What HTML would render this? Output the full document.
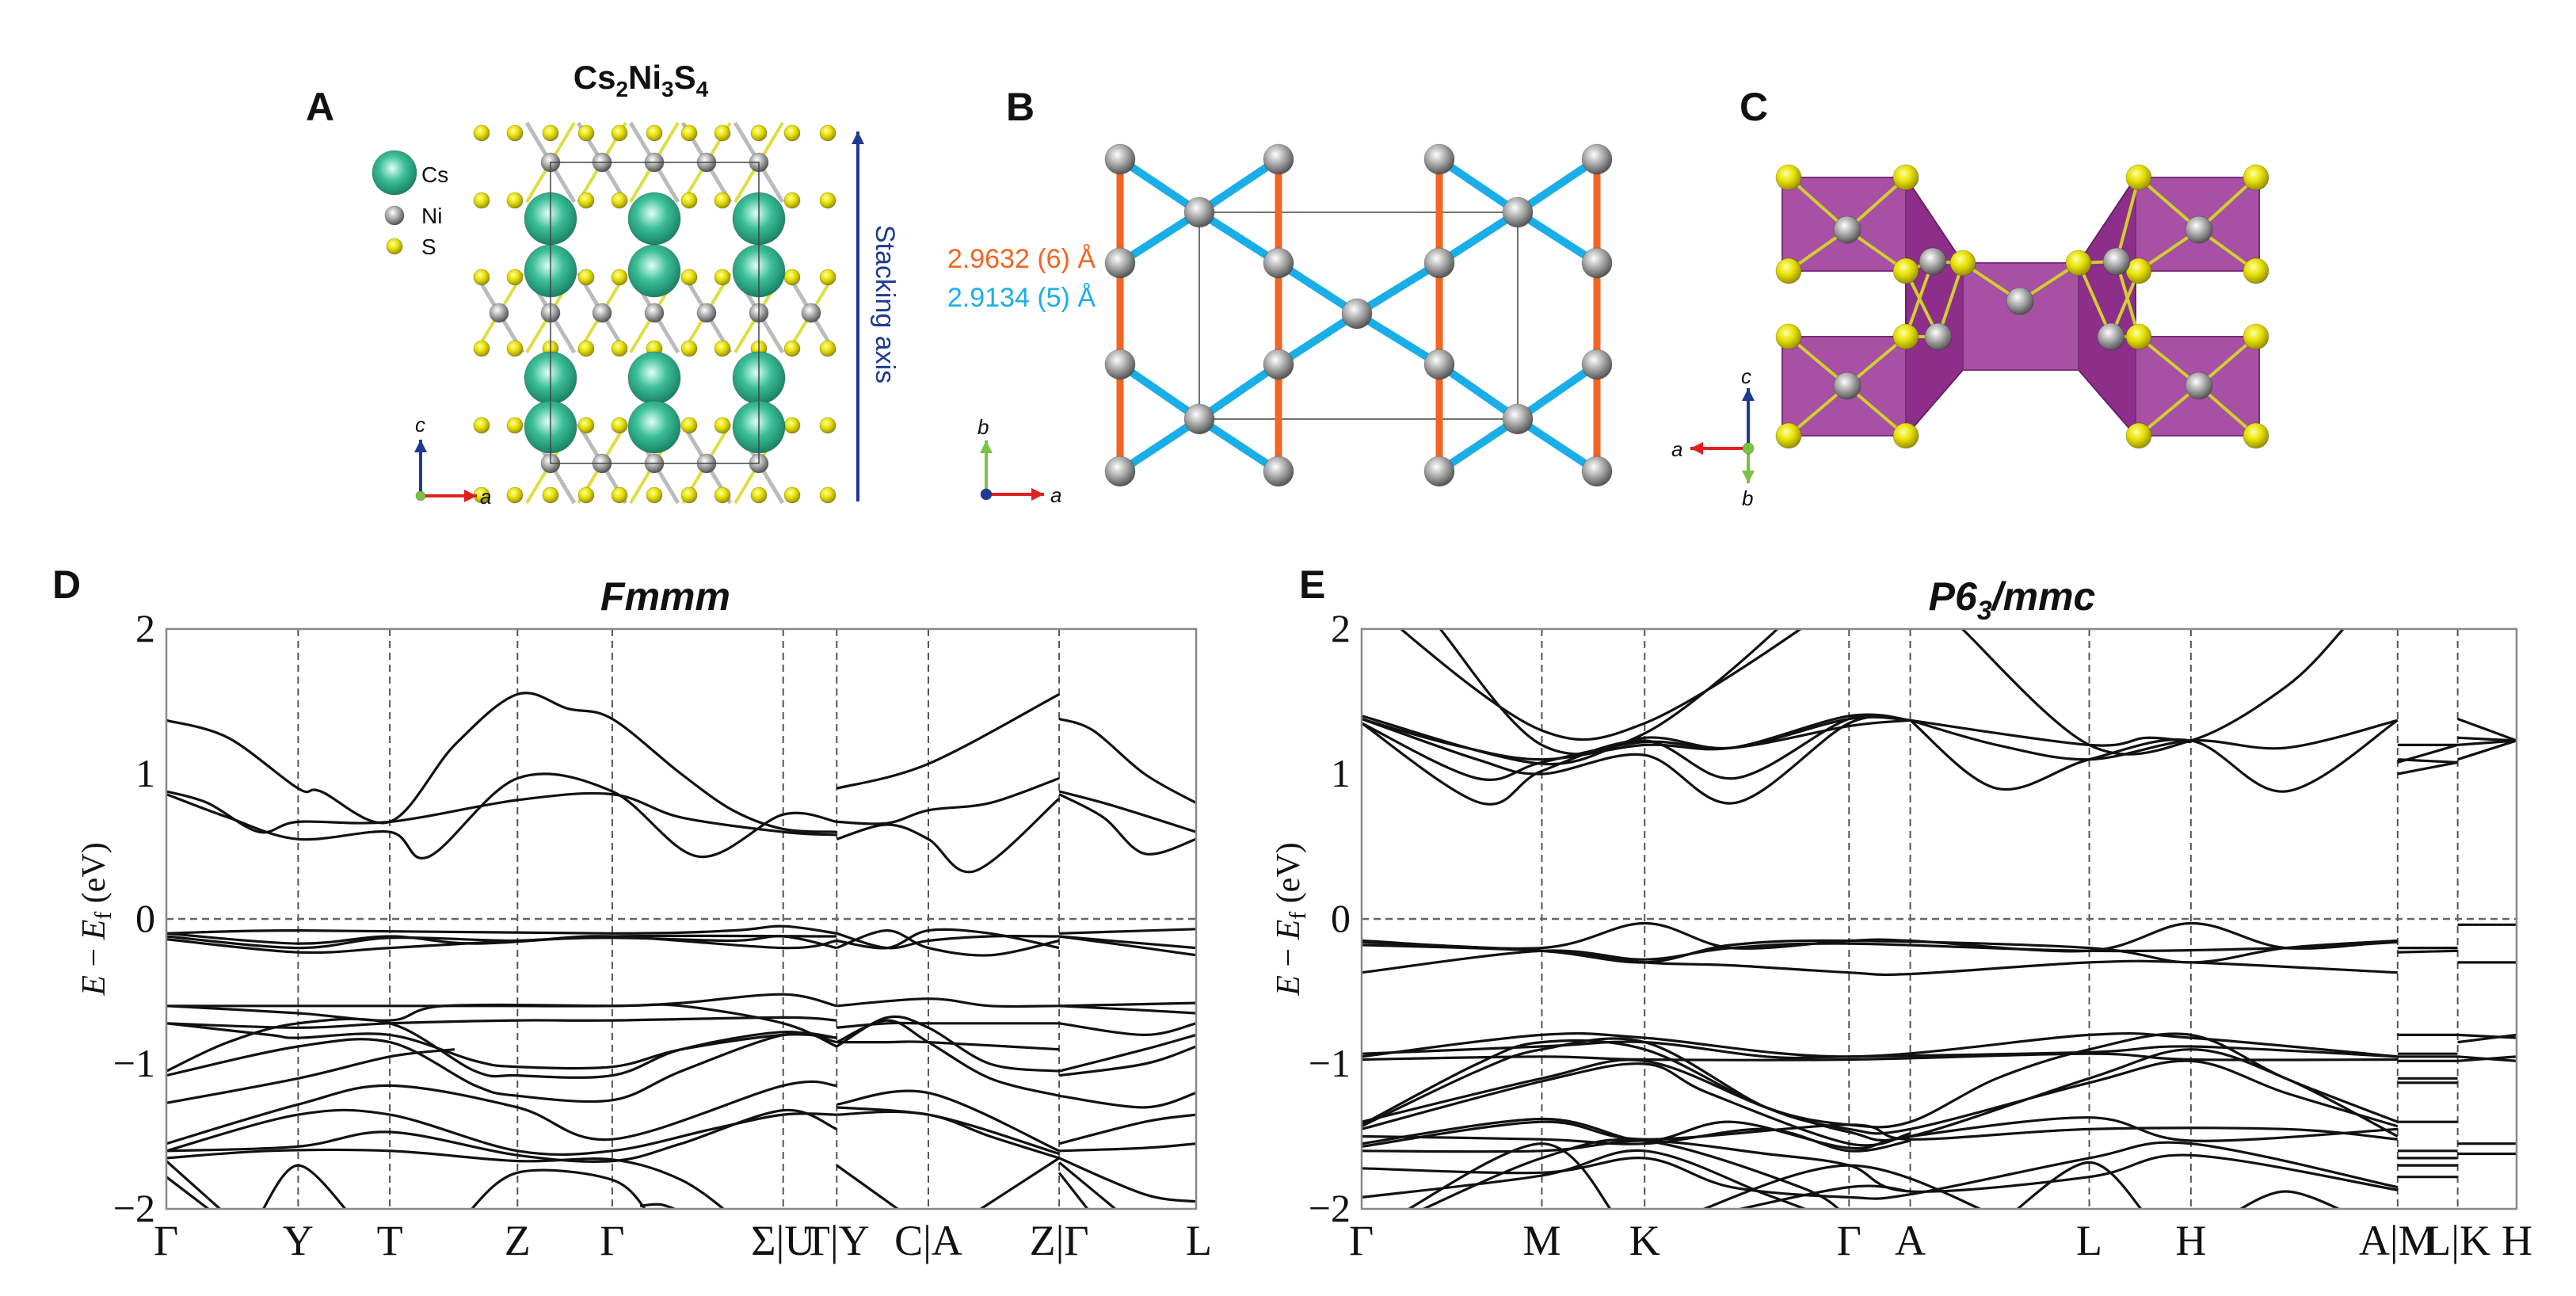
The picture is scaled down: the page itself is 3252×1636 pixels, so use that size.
<!DOCTYPE html>
<html><head><meta charset="utf-8"><style>
html,body{margin:0;padding:0;background:#fff}
svg{display:block}
.ser{font-family:"Liberation Serif",serif}
.sans{font-family:"Liberation Sans",sans-serif}
</style></head><body>
<svg id="fig" width="3252" height="1636" viewBox="0 0 3252 1636" xmlns="http://www.w3.org/2000/svg">
<defs>
<radialGradient id="gNi" cx="40%" cy="35%" r="65%"><stop offset="0" stop-color="#fff"/><stop offset="0.5" stop-color="#aaa"/><stop offset="1" stop-color="#555"/></radialGradient>
<radialGradient id="gS" cx="40%" cy="35%" r="65%"><stop offset="0" stop-color="#ffffa0"/><stop offset="0.5" stop-color="#e6e000"/><stop offset="1" stop-color="#9a9000"/></radialGradient>
<radialGradient id="gCs" cx="45%" cy="40%" r="65%"><stop offset="0" stop-color="#e0fff4"/><stop offset="0.45" stop-color="#3cbf98"/><stop offset="1" stop-color="#13785c"/></radialGradient>
<clipPath id="clipD"><rect x="210" y="794" width="1300" height="732"/></clipPath>
<clipPath id="clipE"><rect x="1719" y="794" width="1458" height="732"/></clipPath>
</defs>
<g id="top"></g>
<g id="panelD"></g>
<g id="panelE"></g>
</svg>
<script>
const NS="http://www.w3.org/2000/svg";
function mk(parent,tag,attrs,text){const e=document.createElementNS(NS,tag);for(const k in attrs)e.setAttribute(k,attrs[k]);if(text!==undefined)e.textContent=text;parent.appendChild(e);return e;}

const yTicks=[2,1,0,-1,-2];
const yTickLabels=["2","1","0","\u22121","\u22122"];
const dTickK=[0,0.128,0.217,0.341,0.433,0.599,0.651,0.740,0.867,1];
const dTickLabels=["\u0393","Y","T","Z","\u0393","\u03A3|U","T|Y","C|A","Z|\u0393","L"];
const eTickK=[0,0.156,0.245,0.422,0.475,0.630,0.718,0.897,0.949,1];
const eTickLabels=["\u0393","M","K","\u0393","A","L","H","A|M","L|K","H"];

const dBands=[
[[0,1.37],[0.06,1.25],[0.128,0.9],[0.15,0.88],[0.217,0.67],[0.28,1.2],[0.341,1.55],[0.39,1.45],[0.433,1.38],[0.5,1.0],[0.55,0.75],[0.599,0.62],[0.651,0.6]],
[[0,0.88],[0.04,0.8],[0.09,0.6],[0.128,0.67],[0.217,0.67],[0.341,0.82],[0.433,0.86],[0.5,0.7],[0.599,0.6],[0.651,0.58]],
[[0,0.86],[0.06,0.7],[0.128,0.55],[0.217,0.6],[0.255,0.43],[0.341,0.97],[0.433,0.88],[0.517,0.43],[0.599,0.72],[0.651,0.67]],
[[0.651,0.9],[0.74,1.07],[0.867,1.55]],
[[0.651,0.67],[0.7,0.66],[0.74,0.75],[0.8,0.8],[0.867,0.97]],
[[0.651,0.55],[0.7,0.65],[0.74,0.55],[0.785,0.33],[0.867,0.83]],
[[0.867,1.38],[0.9,1.3],[0.95,1.0],[1,0.8]],
[[0.867,0.88],[0.92,0.78],[1,0.6]],
[[0.867,0.86],[0.91,0.7],[0.95,0.45],[1,0.55]],
[[0,-0.1],[0.128,-0.08],[0.433,-0.1],[0.55,-0.08],[0.599,-0.05],[0.651,-0.1]],
[[0,-0.12],[0.128,-0.2],[0.217,-0.13],[0.341,-0.15],[0.433,-0.12],[0.599,-0.2],[0.651,-0.15]],
[[0,-0.14],[0.128,-0.23],[0.217,-0.2],[0.341,-0.15],[0.433,-0.13],[0.55,-0.15],[0.599,-0.12],[0.651,-0.2]],
[[0,-0.1],[0.128,-0.17],[0.217,-0.12],[0.3,-0.17],[0.433,-0.12],[0.651,-0.12]],
[[0.651,-0.1],[0.7,-0.2],[0.74,-0.15],[0.8,-0.12],[0.867,-0.12]],
[[0.651,-0.2],[0.7,-0.08],[0.74,-0.2],[0.8,-0.25],[0.867,-0.15]],
[[0.651,-0.15],[0.7,-0.2],[0.74,-0.08],[0.8,-0.1],[0.867,-0.2]],
[[0.867,-0.1],[1,-0.07]],
[[0.867,-0.12],[1,-0.2]],
[[0.867,-0.12],[0.95,-0.2],[1,-0.25]],
[[0,-0.6],[0.3,-0.6],[0.433,-0.6],[0.5,-0.58],[0.599,-0.52],[0.651,-0.6]],
[[0,-0.6],[0.128,-0.65],[0.217,-0.7],[0.27,-0.6],[0.433,-0.6],[0.5,-0.6],[0.599,-0.72],[0.651,-0.88]],
[[0,-0.72],[0.128,-0.75],[0.217,-0.72],[0.341,-0.7],[0.433,-0.7],[0.599,-0.68],[0.651,-0.7]],
[[0,-0.72],[0.1,-0.8],[0.128,-0.82],[0.217,-0.8],[0.3,-0.98],[0.341,-1.02],[0.433,-1.02],[0.5,-0.9],[0.599,-0.8],[0.651,-0.82]],
[[0,-1.05],[0.06,-0.85],[0.128,-0.72],[0.217,-0.72],[0.3,-1.05],[0.341,-1.08],[0.433,-1.08],[0.5,-0.9],[0.599,-0.78],[0.651,-0.85]],
[[0,-1.08],[0.128,-0.88],[0.217,-0.85],[0.3,-1.15],[0.341,-1.22],[0.433,-1.25],[0.5,-1.05],[0.599,-0.8],[0.651,-0.82]],
[[0,-1.27],[0.128,-1.1],[0.217,-0.95],[0.28,-0.9]],
[[0,-1.55],[0.128,-1.28],[0.217,-1.15],[0.341,-1.3],[0.433,-1.52],[0.599,-1.15],[0.651,-1.15]],
[[0,-1.6],[0.128,-1.35],[0.217,-1.35],[0.341,-1.6],[0.433,-1.6],[0.53,-1.45],[0.599,-1.35],[0.651,-1.35]],
[[0,-1.6],[0.128,-1.57],[0.217,-1.47],[0.341,-1.63],[0.433,-1.67],[0.5,-1.55],[0.599,-1.32],[0.651,-1.45]],
[[0,-1.65],[0.1,-1.6],[0.217,-1.6],[0.341,-1.67],[0.433,-1.66],[0.5,-1.8],[0.55,-2.05]],
[[0,-1.78],[0.05,-2.05]],
[[0,-1.67],[0.06,-2.05]],
[[0.09,-2.05],[0.128,-1.7],[0.18,-2.05]],
[[0.29,-2.05],[0.341,-1.75],[0.433,-1.8],[0.47,-2.05]],
[[0.46,-1.98],[0.48,-1.97],[0.5,-2.02]],
[[0.651,-0.6],[0.74,-0.55],[0.8,-0.6],[0.867,-0.6]],
[[0.651,-0.75],[0.7,-0.72],[0.74,-0.72],[0.867,-0.72]],
[[0.651,-0.85],[0.7,-0.85],[0.74,-0.85],[0.867,-0.9]],
[[0.651,-0.88],[0.7,-0.68],[0.74,-0.75],[0.8,-1.0],[0.867,-1.05]],
[[0.651,-0.85],[0.7,-0.7],[0.74,-0.85],[0.8,-1.1],[0.867,-1.22]],
[[0.651,-1.28],[0.74,-1.2],[0.867,-1.6]],
[[0.651,-1.35],[0.74,-1.35],[0.867,-1.62]],
[[0.651,-1.3],[0.74,-1.35],[0.8,-1.5],[0.867,-1.65]],
[[0.651,-1.7],[0.72,-2.05]],
[[0.78,-2.05],[0.867,-1.65]],
[[0.867,-0.6],[1,-0.58]],
[[0.867,-0.6],[0.95,-0.63],[1,-0.65]],
[[0.867,-0.72],[0.95,-0.8],[1,-0.72]],
[[0.867,-1.05],[0.95,-0.9],[1,-0.8]],
[[0.867,-1.08],[0.95,-1.0],[1,-0.88]],
[[0.867,-1.22],[0.95,-1.3],[1,-1.2]],
[[0.867,-1.55],[0.95,-1.4],[1,-1.35]],
[[0.867,-1.6],[0.95,-1.58],[1,-1.55]],
[[0.867,-1.65],[0.95,-1.9],[1,-1.95]],
[[0.867,-1.75],[0.9,-2.05]],
[[0.867,-1.68],[0.93,-2.05]]
];

const eBands=[
[[0.02,2.2],[0.034,2.0],[0.156,1.3],[0.245,1.35],[0.38,2.0],[0.4,2.2]],
[[0.05,2.2],[0.068,2.0],[0.156,1.2],[0.245,1.28],[0.36,2.0],[0.37,2.2]],
[[0,1.38],[0.1,1.1],[0.156,1.0],[0.245,1.13],[0.323,0.8],[0.422,1.35],[0.475,1.37]],
[[0,1.35],[0.103,0.8],[0.156,1.02],[0.245,1.23],[0.323,0.97],[0.422,1.38],[0.475,1.37]],
[[0,1.35],[0.1,0.97],[0.156,1.08],[0.245,1.22],[0.32,1.18],[0.422,1.33],[0.475,1.37]],
[[0,1.38],[0.08,1.2],[0.156,1.1],[0.245,1.2],[0.32,1.18],[0.422,1.4],[0.475,1.37]],
[[0,1.4],[0.156,1.07],[0.245,1.25],[0.32,1.18],[0.422,1.38],[0.475,1.37]],
[[0.475,1.37],[0.55,0.9],[0.63,1.1],[0.718,1.23],[0.8,0.88],[0.897,1.37]],
[[0.475,1.37],[0.55,1.2],[0.63,1.1],[0.718,1.23],[0.8,1.18],[0.897,1.37]],
[[0.475,1.37],[0.63,1.2],[0.68,1.25],[0.718,1.22]],
[[0.52,2.0],[0.63,1.2],[0.718,1.23],[0.8,1.6],[0.85,2.0],[0.87,2.2]],
[[0.897,1.2],[0.949,1.2]],
[[0.897,1.0],[0.949,1.08]],
[[0.897,1.1],[0.949,1.08]],
[[0.897,1.08],[0.949,1.2]],
[[0.949,1.38],[1,1.23]],
[[0.949,1.1],[1,1.23]],
[[0.949,1.25],[1,1.23]],
[[0.949,1.2],[1,1.23]],
[[0,-0.15],[0.156,-0.2],[0.245,-0.03],[0.32,-0.2],[0.422,-0.15],[0.475,-0.15],[0.63,-0.22],[0.718,-0.03],[0.8,-0.2],[0.897,-0.15]],
[[0,-0.16],[0.156,-0.22],[0.245,-0.3],[0.32,-0.18],[0.422,-0.15],[0.63,-0.2],[0.718,-0.3],[0.8,-0.2],[0.897,-0.15]],
[[0,-0.18],[0.156,-0.22],[0.245,-0.3],[0.32,-0.32],[0.422,-0.37],[0.475,-0.38],[0.63,-0.3],[0.718,-0.3],[0.897,-0.37]],
[[0,-0.37],[0.156,-0.22],[0.245,-0.28],[0.32,-0.2],[0.422,-0.17],[0.63,-0.22],[0.8,-0.2],[0.897,-0.16]],
[[0.897,-0.2],[0.949,-0.2]],
[[0.897,-0.23],[0.949,-0.22]],
[[0.949,-0.04],[1,-0.04]],
[[0.949,-0.3],[1,-0.3]],
[[0,-0.95],[0.156,-0.8],[0.245,-0.82],[0.422,-0.95],[0.63,-0.8],[0.718,-0.82],[0.897,-0.95]],
[[0,-0.97],[0.156,-0.95],[0.245,-0.97],[0.422,-0.97],[0.63,-0.93],[0.718,-0.97],[0.897,-0.97]],
[[0,-0.93],[0.156,-0.88],[0.245,-0.85],[0.35,-0.95],[0.422,-0.95],[0.63,-0.92],[0.718,-0.88],[0.897,-0.95]],
[[0,-1.42],[0.1,-1.0],[0.156,-0.85],[0.245,-0.9],[0.35,-1.3],[0.422,-1.42],[0.475,-1.4],[0.55,-1.1],[0.63,-0.9],[0.718,-0.8],[0.8,-1.1],[0.897,-1.4]],
[[0,-1.43],[0.1,-1.05],[0.156,-0.9],[0.245,-0.85],[0.35,-1.3],[0.422,-1.45],[0.475,-1.45],[0.63,-1.13],[0.718,-0.98],[0.8,-1.2],[0.897,-1.43]],
[[0,-1.4],[0.156,-1.1],[0.245,-0.98],[0.35,-1.3],[0.422,-1.47],[0.475,-1.5],[0.63,-1.1],[0.718,-0.9],[0.8,-1.1],[0.897,-1.5]],
[[0,-1.45],[0.156,-1.12],[0.245,-1.0],[0.3,-1.2],[0.422,-1.55],[0.475,-1.48]],
[[0,-1.55],[0.156,-1.38],[0.245,-1.53],[0.32,-1.4],[0.422,-1.58],[0.475,-1.5],[0.63,-1.37],[0.718,-1.53],[0.897,-1.45]],
[[0,-1.57],[0.156,-1.4],[0.245,-1.52],[0.422,-1.42],[0.475,-1.52],[0.63,-1.45],[0.8,-1.45],[0.897,-1.52]],
[[0,-1.5],[0.156,-1.52],[0.245,-1.55],[0.35,-1.45],[0.422,-1.6],[0.475,-1.53]],
[[0,-1.6],[0.156,-1.6],[0.245,-1.53],[0.35,-1.62],[0.422,-1.7],[0.475,-1.88],[0.63,-1.78],[0.718,-1.63],[0.897,-1.87]],
[[0,-1.72],[0.156,-1.75],[0.245,-1.65],[0.32,-1.85],[0.422,-1.92],[0.475,-1.9],[0.63,-1.65],[0.718,-1.55],[0.897,-1.85]],
[[0,-1.92],[0.156,-1.77],[0.245,-1.6],[0.35,-1.9],[0.4,-2.05]],
[[0.04,-2.05],[0.156,-1.65],[0.245,-1.53],[0.38,-1.85],[0.42,-2.05]],
[[0.03,-2.05],[0.156,-1.55],[0.22,-2.05]],
[[0.28,-2.05],[0.422,-1.7],[0.55,-2.05]],
[[0.56,-2.05],[0.63,-1.68],[0.68,-2.05]],
[[0.75,-2.05],[0.8,-1.88],[0.86,-2.05]],
[[0.3,-2.05],[0.422,-1.85],[0.475,-1.88]],
[[0.897,-0.8],[0.949,-0.8]],[[0.897,-0.93],[0.949,-0.93]],[[0.897,-0.95],[0.949,-0.95]],[[0.897,-0.98],[0.949,-0.98]],
[[0.897,-1.1],[0.949,-1.1]],[[0.897,-1.13],[0.949,-1.13]],[[0.897,-1.4],[0.949,-1.4]],[[0.897,-1.6],[0.949,-1.6]],
[[0.897,-1.65],[0.949,-1.65]],[[0.897,-1.7],[0.949,-1.7]],[[0.897,-1.78],[0.949,-1.78]],
[[0.949,-0.8],[1,-0.82]],[[0.949,-0.85],[1,-0.8]],[[0.949,-0.95],[1,-0.98]],[[0.949,-0.98],[1,-0.95]],
[[0.949,-1.55],[1,-1.55]],[[0.949,-1.62],[1,-1.62]]
];

function bandPanel(g,opt){
  const {x0,x1,yTop,yBot,clip,ticksK,ticksL,bands}=opt;
  const X=k=>x0+k*(x1-x0);
  const Y=e=>yTop+(2-e)*(yBot-yTop)/4;
  ticksK.forEach((k,i)=>{ if(i>0&&i<ticksK.length-1){
    const l=mk(g,'line',{x1:X(k),x2:X(k),y1:yTop,y2:yBot,stroke:'#555','stroke-width':2,'stroke-dasharray':'9,6'});
    
    
  }});
  const fl=mk(g,'line',{x1:x0,x2:x1,y1:Y(0),y2:Y(0),stroke:'#666','stroke-width':2.5,'stroke-dasharray':'9,6'});
  
  
  const bg=mk(g,'g',{'clip-path':`url(#${clip})`});
  
  
  bands.forEach(b=>{
    const p=b.map(q=>[X(q[0]),Y(q[1])]);
    let d=`M${p[0][0].toFixed(1)},${p[0][1].toFixed(1)}`;
    for(let i=0;i<p.length-1;i++){
      const p0=p[i-1]||p[i],p1=p[i],p2=p[i+1],p3=p[i+2]||p[i+1];
      const t=6;
      const c1=[p1[0]+(p2[0]-p0[0])/t,p1[1]+(p2[1]-p0[1])/t];
      const c2=[p2[0]-(p3[0]-p1[0])/t,p2[1]-(p3[1]-p1[1])/t];
      d+=` C${c1[0].toFixed(1)},${c1[1].toFixed(1)} ${c2[0].toFixed(1)},${c2[1].toFixed(1)} ${p2[0].toFixed(1)},${p2[1].toFixed(1)}`;
    }
    const path=mk(bg,'path',{d,fill:'none',stroke:'#111','stroke-width':3.2,'stroke-linejoin':'round'});
    
    
  });
  const fr=mk(g,'rect',{x:x0,y:yTop,width:x1-x0,height:yBot-yTop,fill:'none',stroke:'#888','stroke-width':2.5});
  
  
  yTicks.forEach((v,i)=>{
    const t=mk(g,'text',{x:x0-14,y:Y(v)+16,'text-anchor':'end','font-size':50,class:'ser',fill:'#111'},yTickLabels[i]);
    
    
  });
  ticksK.forEach((k,i)=>{
    let anchor='middle',xx=X(k);
    if(i===0){anchor='start';xx=X(k)-16;}
    if(i===ticksK.length-1){anchor='end';xx=X(k)+20;}
    const t=mk(g,'text',{x:xx,y:yBot+58,'text-anchor':anchor,'font-size':54,class:'ser',fill:'#111'},ticksL[i]);
    
    
  });
  const yl=mk(g,'text',{transform:`translate(${opt.ylx},${(yTop+yBot)/2}) rotate(-90)`,'text-anchor':'middle','font-size':42,class:'ser',fill:'#111'});
  
  
  yl.innerHTML='<tspan font-style="italic">E</tspan> \u2212 <tspan font-style="italic">E</tspan><tspan font-size="30" dy="8">f</tspan><tspan dy="-8"> (eV)</tspan>';
  const ti=mk(g,'text',{x:opt.tx,y:770,'text-anchor':'middle','font-size':50,'font-weight':'bold','font-style':'italic',class:'sans',fill:'#111'});
  
  
  ti.innerHTML=opt.title;
  const pl=mk(g,'text',{x:opt.lx,y:755,'font-size':50,'font-weight':'bold',class:'sans',fill:'#111'},opt.letter);
  
  
}
bandPanel(document.getElementById('panelD'),{x0:210,x1:1510,yTop:794,yBot:1526,clip:'clipD',ticksK:dTickK,ticksL:dTickLabels,bands:dBands,ylx:132,tx:840,title:'Fmmm',lx:66,letter:'D'});
bandPanel(document.getElementById('panelE'),{x0:1719,x1:3177,yTop:794,yBot:1526,clip:'clipE',ticksK:eTickK,ticksL:eTickLabels,bands:eBands,ylx:1640,tx:2540,title:'P6<tspan font-size="34" dy="12">3</tspan><tspan dy="-12">/mmc</tspan>',lx:1640,letter:'E'});

const T=document.getElementById('top');
function atom(g,x,y,r,fill,name){const c=mk(g,'circle',{cx:x,cy:y,r,fill,stroke:'#00000033','stroke-width':1});return c;}
function txt(g,x,y,s,size,attrs,name){const t=mk(g,'text',Object.assign({x,y,'font-size':size,class:'sans',fill:'#111'},attrs||{}),s);return t;}
function arrow(g,x1,y1,x2,y2,col,name){
  const l=mk(g,'line',{x1,y1,x2,y2,stroke:col,'stroke-width':4});
  
  const a=Math.atan2(y2-y1,x2-x1),L=16,W=8;
  mk(g,'polygon',{points:`${x2},${y2} ${x2-L*Math.cos(a)+W*Math.sin(a)},${y2-L*Math.sin(a)-W*Math.cos(a)} ${x2-L*Math.cos(a)-W*Math.sin(a)},${y2-L*Math.sin(a)+W*Math.cos(a)}`,fill:col});
}
// Panel A
const gA=mk(T,'g',{});
txt(gA,386,152,'A',50,{'font-weight':'bold'},'panel-letter');
const tA=txt(gA,809,112,'',42,{'font-weight':'bold','text-anchor':'middle'},'formula-title');
tA.innerHTML='Cs<tspan font-size="28" dy="10">2</tspan><tspan dy="-10">Ni</tspan><tspan font-size="28" dy="10">3</tspan><tspan dy="-10">S</tspan><tspan font-size="28" dy="10">4</tspan>';
atom(gA,498,218,28,'url(#gCs)','legend-cs');txt(gA,532,230,'Cs',28,{},'legend-label');
atom(gA,498,272,12,'url(#gNi)','legend-ni');txt(gA,532,282,'Ni',28,{},'legend-label');
atom(gA,498,311,10,'url(#gS)','legend-s');txt(gA,532,321,'S',28,{},'legend-label');
const aCols=[630,695,760,826,892,958,1024];
const niRows=[205,395,585];
niRows.forEach(y=>{
  aCols.forEach((x,i)=>{ if(y!==395&&(i===0||i===6))return;
    mk(gA,'line',{x1:x-30,y1:y-50,x2:x,y2:y,stroke:'#bbb','stroke-width':5});
    mk(gA,'line',{x1:x+30,y1:y-50,x2:x,y2:y,stroke:'#dede40','stroke-width':4});
    mk(gA,'line',{x1:x-30,y1:y+50,x2:x,y2:y,stroke:'#dede40','stroke-width':4});
    mk(gA,'line',{x1:x+30,y1:y+50,x2:x,y2:y,stroke:'#bbb','stroke-width':5});
  });
});
[168,253,350,440,537,625].forEach(y=>{[608,650,695,740,782,826,870,912,958,1000,1045].forEach(x=>atom(gA,x,y,10,'url(#gS)','s-atom'));});
niRows.forEach(y=>aCols.forEach((x,i)=>{ if(y!==395&&(i===0||i===6))return; atom(gA,x,y,12,'url(#gNi)','ni-atom');}));
[276,342,477,539].forEach(y=>[695,826,958].forEach(x=>atom(gA,x,y,33,'url(#gCs)','cs-atom')));
mk(gA,'rect',{x:695,y:205,width:263,height:380,fill:'none',stroke:'#444','stroke-width':1.5});
arrow(gA,1083,633,1083,166,'#1f3a93','stacking-axis-arrow');
txt(gA,0,0,'Stacking axis',34,{fill:'#1f3a93',transform:'translate(1106,384) rotate(90)','text-anchor':'middle'},'stacking-axis-label');
arrow(gA,531,626,531,555,'#1f3a93','c-axis-arrow');
arrow(gA,531,626,602,626,'#e02020','a-axis-arrow');
atom(gA,531,626,6,'#7cc242','axis-origin');
txt(gA,524,545,'c',26,{'font-style':'italic'},'axis-label');
txt(gA,606,636,'a',26,{'font-style':'italic'},'axis-label');
// Panel B
const gB=mk(T,'g',{});
txt(gB,1270,152,'B',50,{'font-weight':'bold'},'panel-letter');
const bx=[1414,1614,1817,2016],by=[201,332,460,595];
mk(gB,'rect',{x:1514,y:268,width:402,height:261,fill:'none',stroke:'#444','stroke-width':1.5});
bx.forEach(x=>{const l=mk(gB,'line',{x1:x,y1:201,x2:x,y2:595,stroke:'#f26522','stroke-width':9});});
const blue=[[[1414,201],[1514,268],[1614,332],[1713,396],[1817,460],[1916,529],[2016,595]],
[[2016,201],[1916,268],[1817,332],[1713,396],[1614,460],[1514,529],[1414,595]],
[[1614,201],[1514,268],[1414,332]],[[1817,201],[1916,268],[2016,332]],
[[1414,460],[1514,529],[1614,595]],[[2016,460],[1916,529],[1817,595]]];
blue.forEach(p=>{const l=mk(gB,'polyline',{points:p.map(q=>q.join(',')).join(' '),fill:'none',stroke:'#1aaee8','stroke-width':10});});
bx.forEach(x=>by.forEach(y=>atom(gB,x,y,19,'url(#gNi)','ni-atom')));
[[1514,268],[1916,268],[1514,529],[1916,529],[1713,396]].forEach(p=>atom(gB,p[0],p[1],19,'url(#gNi)','ni-atom'));
txt(gB,1383,338,'2.9632 (6) \u00C5',34,{fill:'#f26522','text-anchor':'end'},'bond-length-orange');
txt(gB,1383,387,'2.9134 (5) \u00C5',34,{fill:'#1aaee8','text-anchor':'end'},'bond-length-blue');
arrow(gB,1245,624,1245,556,'#7cc242','b-axis-arrow');
arrow(gB,1245,624,1318,624,'#e02020','a-axis-arrow');
atom(gB,1245,624,7,'#1f3a93','axis-origin');
txt(gB,1234,548,'b',26,{'font-style':'italic'},'axis-label');
txt(gB,1326,634,'a',26,{'font-style':'italic'},'axis-label');
// Panel C
const gC=mk(T,'g',{});
txt(gC,2196,152,'C',50,{'font-weight':'bold'},'panel-letter');
const purple='#a3479f';
[[[2406,224],[2478,332],[2478,467],[2406,550]],[[2696,224],[2624,332],[2624,467],[2696,550]]].forEach(p=>{
  const q=mk(gC,'polygon',{points:p.map(q=>q.join(',')).join(' '),fill:'#8d2f8a',stroke:'#6a1f68','stroke-width':2});
  
});
[[2250,224,2406,342],[2250,425,2406,550],[2696,224,2852,342],[2696,425,2852,550],[2478,332,2624,467]].forEach(r=>{
  const p=mk(gC,'rect',{x:r[0],y:r[1],width:r[2]-r[0],height:r[3]-r[1],fill:purple,stroke:'#7a2f78','stroke-width':2,'fill-opacity':0.95});
  
});
const cS=[[2258,224],[2406,224],[2258,342],[2406,342],[2258,425],[2406,425],[2258,550],[2406,550],[2700,224],[2848,224],[2700,342],[2848,342],[2700,425],[2848,425],[2700,550],[2848,550],[2478,332],[2624,332]];
const cNi=[[2332,290],[2332,487],[2776,290],[2776,487],[2550,380],[2447,425],[2665,425],[2440,330],[2672,330]];
cNi.forEach(n=>{cS.forEach(s=>{const d=Math.hypot(s[0]-n[0],s[1]-n[1]);if(d<110){mk(gC,'line',{x1:n[0],y1:n[1],x2:s[0],y2:s[1],stroke:'#cfcf30','stroke-width':4});}});});
cS.forEach(s=>atom(gC,s[0],s[1],16,'url(#gS)','s-atom'));
cNi.forEach(s=>atom(gC,s[0],s[1],17,'url(#gNi)','ni-atom'));
arrow(gC,2207,566,2207,490,'#1f3a93','c-axis-arrow');
arrow(gC,2207,566,2134,566,'#e02020','a-axis-arrow');
arrow(gC,2207,566,2207,610,'#7cc242','b-axis-arrow');
atom(gC,2207,566,7,'#7cc242','axis-origin');
txt(gC,2198,484,'c',26,{'font-style':'italic'},'axis-label');
txt(gC,2110,576,'a',26,{'font-style':'italic'},'axis-label');
txt(gC,2199,638,'b',26,{'font-style':'italic'},'axis-label');
</script>
</body></html>
